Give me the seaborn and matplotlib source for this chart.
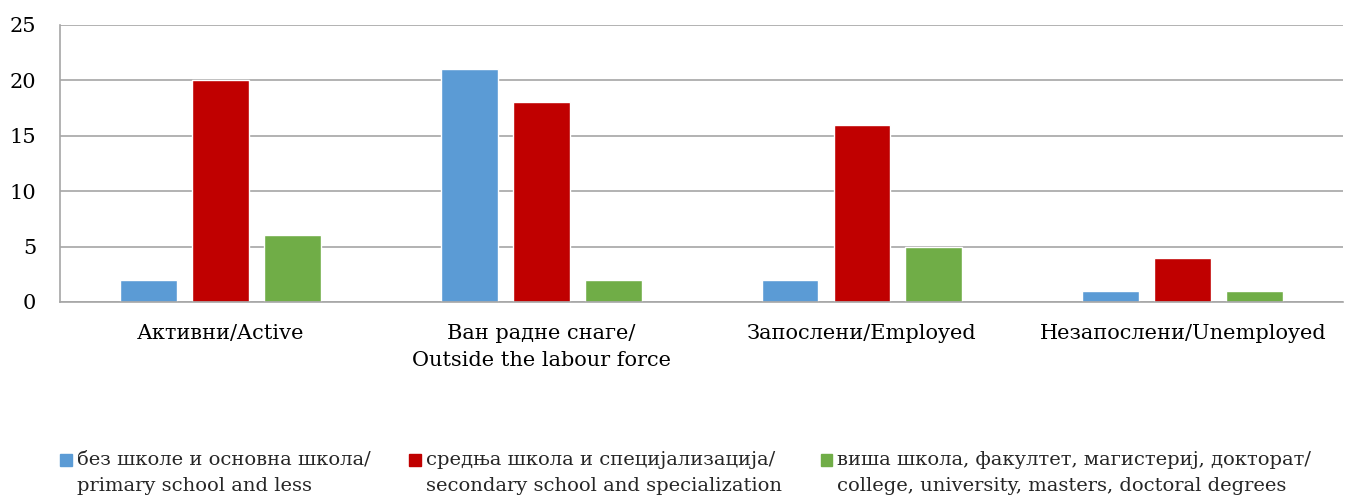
import pandas as pd
import numpy as np
from matplotlib import pyplot as plt
from matplotlib.legend_handler import HandlerPatch
import seaborn as sns

categories = ['Активни/Active', 'Ван радне снаге/\nOutside the labour force',
              'Запослени/Employed', 'Незапослени/Unemployed']
series = ['без школе и основна школа/\nprimary school and less',
          'средња школа и специјализација/\nsecondary school and specialization',
          'виша школа, факултет, магистериј, докторат/\ncollege, university, masters, doctoral degrees']
primary = [2, 21, 2, 1]
secondary = [20, 18, 16, 4]
higher = [6, 2, 5, 1]
colors = ['#5B9BD5', '#C00000', '#70AD47']

df = pd.DataFrame({'cat': categories * 3,
                   'edu': [series[0]] * 4 + [series[1]] * 4 + [series[2]] * 4,
                   'val': primary + secondary + higher})

sns.set_style('white')
plt.rcParams['font.family'] = ['DejaVu Serif']

fig = plt.figure(figsize=(13.45, 4.95), dpi=100)
ax = fig.add_axes([0.0446, 0.39, 0.954, 0.56])
sns.barplot(data=df, x='cat', y='val', hue='edu', palette=colors,
            width=0.673, gap=0.21, saturation=1, ax=ax, legend=False)

ax.set_ylim(0, 25)
ax.set_yticks(range(0, 26, 5))
ax.set_xlabel('')
ax.set_ylabel('')
ax.grid(axis='y', color='#A6A6A6', linewidth=1.2)
ax.set_axisbelow(True)
for s in ['top', 'right']:
    ax.spines[s].set_visible(False)
for s in ['left', 'bottom']:
    ax.spines[s].set_color('#A6A6A6')
    ax.spines[s].set_linewidth(1.2)
ax.tick_params(axis='both', length=0, labelsize=15, colors='black')
ax.tick_params(axis='x', pad=16)
ax.tick_params(axis='y', pad=17)
for t in ax.get_xticklabels():
    t.set_linespacing(1.55)


# square marker next to the first line of each legend label
def top_square(legend, orig_handle, xdescent, ydescent, width, height, fontsize):
    s = width
    return plt.Rectangle((-xdescent, -ydescent + height - s * 0.6), s, s)


handles = [plt.Rectangle((0, 0), 1, 1, color=c) for c in colors]
leg = fig.legend(handles, series, loc='upper left', bbox_to_anchor=(0.039, 0.105),
                 ncol=3, frameon=False, fontsize=14, handlelength=0.6, handleheight=2.0,
                 handletextpad=0.25, columnspacing=2.0, borderaxespad=0, labelspacing=0,
                 handler_map={plt.Rectangle: HandlerPatch(patch_func=top_square)})
for t in leg.get_texts():
    t.set_linespacing(1.6)

plt.savefig('out.png', dpi=100)
